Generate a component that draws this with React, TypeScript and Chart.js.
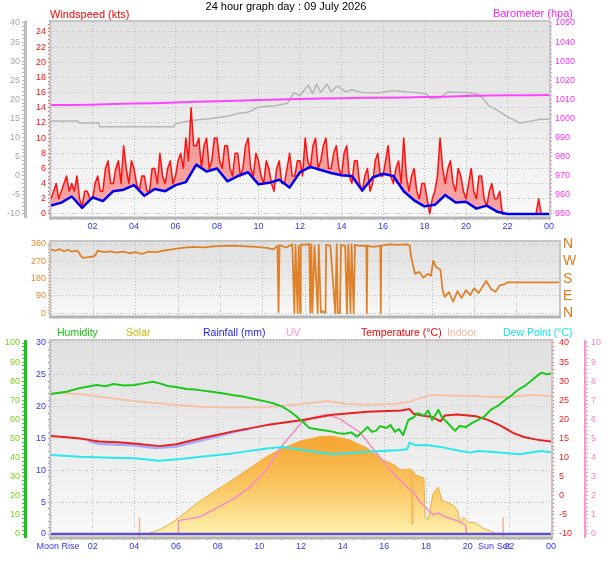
import React, { useEffect, useRef } from "react";
import { Chart, registerables } from "chart.js";

Chart.register(...registerables);

const FONT = '"Liberation Sans", Arial, sans-serif';
const GRID = "#c2c2c2";
const W = 608;
const H = 561;

// ---------- top panel: wind speed (kts) and barometer ----------
const gustStep = 0.125; // hours between gust samples, one row per hour
const windGust = [
  2, 3, 4, 2, 3, 4, 5, 3,
  4, 3, 5, 2, 1, 3, 3, 2,
  2, 4, 5, 3, 3, 6, 7, 4,
  4, 6, 7, 4, 9, 6, 4, 7,
  6, 4, 3, 5, 5, 3, 3, 6,
  6, 4, 8, 5, 4, 6, 7, 4,
  5, 7, 8, 6, 10, 7, 14, 9,
  9, 10, 6, 9, 10, 6, 7, 10,
  10, 7, 6, 9, 9, 6, 5, 8,
  8, 5, 6, 9, 10, 6, 5, 8,
  7, 5, 4, 7, 6, 4, 3, 6,
  7, 4, 4, 6, 8, 5, 5, 7,
  7, 5, 10, 7, 6, 9, 10, 6,
  7, 9, 10, 6, 6, 8, 9, 6,
  5, 8, 9, 5, 4, 7, 7, 4,
  3, 5, 6, 3, 4, 7, 8, 5,
  5, 7, 9, 5, 4, 6, 7, 4,
  10, 5, 3, 5, 6, 3, 2, 4,
  4, 2, 0, 2, 3, 5, 10, 6,
  4, 6, 7, 4, 3, 6, 5, 3,
  2, 4, 6, 3, 2, 5, 5, 2,
  1, 3, 4, 2, 2, 3, 0, 0,
  0, 0, 0, 0, 0, 0, 0, 0,
  0, 0, 0, 0, 2, 0, 0, 0,
  0,
];
const avgStep = 0.5;
const windAvg = [
  1.1, 1.5, 2.3, 0.8, 2.2, 1.7, 3.0, 3.2, 3.8, 2.4,
  3.3, 3.0, 3.8, 4.2, 6.5, 5.6, 6.0, 4.3, 5.0, 5.5,
  3.9, 4.1, 4.5, 3.5, 5.5, 6.2, 5.8, 5.4, 5.1, 5.0,
  3.1, 4.8, 5.3, 5.0, 3.0, 1.8, 1.0, 1.2, 2.5, 1.5,
  1.6, 0.7, 1.1, 0.3, 0, 0, 0, 0, 0,
];
const baroStep = 1;
const baroHpa = [
  1007.0, 1007.0, 1007.2, 1007.6, 1007.8, 1008.0, 1008.3, 1008.8, 1009.0, 1009.3,
  1009.6, 1009.9, 1010.2, 1010.4, 1010.6, 1010.8, 1010.9, 1011.0, 1011.2, 1011.4,
  1011.7, 1012.0, 1012.1, 1012.2, 1012.3,
];
// grey trace, read against the grey -10..40 scale
const greyTrace: [number, number][] = [
  [0, 14.3], [1.3, 14.3], [1.35, 13.8], [2.3, 13.8], [2.35, 12.8], [5.9, 12.8], [6.0, 13.6],
  [6.5, 14.2], [7.0, 14.6], [7.7, 15.0], [8.5, 15.6], [9.1, 16.4], [9.5, 16.6], [10.0, 18.0],
  [10.8, 18.3], [11.4, 19.0], [11.7, 21.7], [12.0, 21.0], [12.4, 23.8], [12.6, 21.5], [12.8, 24.0],
  [13.0, 21.8], [13.3, 24.0], [13.5, 22.0], [13.8, 23.5], [14.2, 22.0], [14.5, 22.5], [15.0, 21.8],
  [15.8, 21.7], [16.5, 22.3], [17.2, 21.9], [17.7, 21.7], [18.1, 21.4], [18.3, 20.2], [18.8, 20.5],
  [19.1, 21.9], [20.0, 21.8], [20.5, 21.4], [20.8, 20.4], [21.1, 18.3], [21.5, 17.2], [22.0, 15.4],
  [22.6, 13.8], [23.1, 14.3], [23.6, 14.8], [24, 14.8],
];

// ---------- middle panel: wind direction (degrees) ----------
const windDirection: [number, number][] = [
  [0, 332], [0.2, 325], [0.4, 333], [0.6, 322], [0.8, 330], [1.0, 320], [1.2, 326], [1.3, 318],
  [1.4, 300], [1.5, 288], [1.8, 292], [2.0, 295], [2.1, 302], [2.2, 325], [2.5, 318], [2.8, 322],
  [3.1, 315], [3.4, 320], [3.7, 312], [4.0, 318], [4.3, 308], [4.6, 320], [5.0, 318], [5.3, 325],
  [5.7, 332], [6.2, 340], [6.7, 345], [7.2, 343], [7.7, 348], [8.2, 350], [8.7, 352], [9.2, 348],
  [9.7, 345], [10.2, 340], [10.5, 332], [10.7, 350], [10.75, 8], [10.8, 355], [11.1, 342],
  [11.4, 358], [11.5, 0], [11.55, 355], [11.65, 2], [11.7, 350], [11.77, 0], [11.8, 358],
  [12.0, 355], [12.2, 360], [12.25, 2], [12.3, 358], [12.35, 5], [12.45, 350], [12.6, 0],
  [12.65, 356], [12.75, 5], [12.85, 10], [12.97, 2], [13.0, 355], [13.2, 352], [13.43, 0],
  [13.5, 358], [13.55, 3], [13.65, 0], [13.7, 356], [13.9, 350], [13.98, 0], [14.05, 356],
  [14.15, 2], [14.2, 358], [14.3, 0], [14.36, 355], [14.6, 350], [14.9, 352], [14.92, 0],
  [14.95, 350], [15.2, 345], [15.56, 350], [15.58, 0], [15.6, 352], [16.0, 358], [16.4, 355],
  [16.8, 358], [16.95, 352], [17.0, 300], [17.1, 250], [17.2, 205], [17.4, 215], [17.6, 185],
  [17.8, 205], [17.95, 195], [18.06, 272], [18.2, 240], [18.4, 225], [18.5, 120], [18.6, 85],
  [18.8, 110], [19.0, 60], [19.2, 115], [19.4, 80], [19.6, 120], [19.8, 95], [20.0, 130],
  [20.2, 105], [20.4, 140], [20.56, 168], [20.8, 125], [21.0, 112], [21.2, 145], [21.4, 150],
  [21.58, 161], [24, 161],
];
const compass: Record<number, string> = { 0: "N", 90: "E", 180: "S", 270: "W", 360: "N" };

// ---------- bottom panel ----------
const humidity: [number, number][] = [
  [0, 73.3], [0.4, 74.0], [0.75, 74.5], [1.1, 75.6], [1.4, 76.4], [1.8, 77.2], [2.2, 78.0],
  [2.6, 77.4], [3.0, 78.5], [3.5, 77.8], [4.0, 78.0], [4.5, 79.0], [4.9, 79.7], [5.3, 78.6],
  [5.6, 77.5], [6.0, 77.0], [6.5, 75.9], [6.9, 75.6], [7.2, 75.2], [7.8, 74.3], [8.3, 73.6],
  [8.7, 72.8], [9.2, 72.0], [9.8, 70.6], [10.35, 69.3], [10.7, 68.3], [11.1, 66.7], [11.5, 64.0],
  [11.8, 61.4], [12.1, 58.6], [12.4, 55.5], [12.7, 55.0], [13.0, 54.5], [13.5, 53.6], [13.8, 52.8],
  [14.1, 52.5], [14.4, 53.2], [14.7, 51.0], [15.0, 54.0], [15.2, 56.0], [15.4, 53.5], [15.6, 54.0],
  [15.8, 56.5], [16.1, 55.5], [16.3, 57.0], [16.5, 53.5], [16.7, 55.0], [16.9, 51.8], [17.15, 59.7],
  [17.4, 61.0], [17.6, 63.3], [17.9, 62.0], [18.1, 64.6], [18.3, 59.7], [18.6, 65.0], [18.75, 61.4],
  [19.05, 58.0], [19.4, 54.0], [19.6, 56.5], [19.9, 56.0], [20.2, 58.0], [20.5, 59.7], [20.8, 61.5],
  [21.1, 65.0], [21.5, 67.5], [21.8, 70.2], [22.1, 72.5], [22.4, 75.4], [22.8, 78.0], [23.1, 80.6],
  [23.3, 82.5], [23.55, 84.5], [23.8, 83.6], [24, 84.1],
];
const temperature: [number, number][] = [
  [0, 15.65], [0.75, 15.3], [1.5, 14.9], [2.3, 14.2], [3.2, 14.0], [4.0, 13.7], [5.2, 13.0],
  [6.0, 13.5], [7.2, 15.05], [8.7, 16.8], [10.35, 18.5], [12.0, 19.8], [13.5, 21.2], [15.2, 22.0],
  [16.8, 22.3], [17.2, 22.7], [17.4, 21.5], [17.8, 21.0], [18.3, 20.6], [18.7, 19.5], [18.9, 21.0],
  [19.5, 21.3], [20.4, 20.8], [21.0, 19.8], [21.6, 18.3], [22.2, 16.4], [22.7, 15.4], [23.3, 14.7],
  [24, 14.2],
];
const feelsLike: [number, number][] = [
  [1.8, 14.3], [2.3, 13.6], [3.0, 13.4], [4.0, 13.2], [5.0, 12.5], [6.0, 12.9], [7.0, 14.2],
  [8.0, 15.6], [9.0, 17.0], [9.5, 17.4],
];
const dewPoint: [number, number][] = [
  [0, 10.7], [1.4, 10.2], [2.5, 10.0], [4.0, 9.8], [5.2, 9.2], [6.2, 9.6], [7.2, 10.2], [8.7, 11.1],
  [10.35, 12.4], [11.1, 12.8], [11.7, 12.3], [12.4, 11.7], [13.5, 10.9], [14.4, 11.2], [15.2, 11.5],
  [16.8, 12.0], [17.1, 12.2], [17.2, 13.9], [17.5, 13.2], [18.0, 13.3], [18.7, 12.8], [19.4, 12.0],
  [20.1, 11.3], [20.5, 11.7], [21.1, 11.5], [22.5, 10.9], [23.5, 11.7], [24, 11.4],
];
const indoor: [number, number][] = [
  [0, 27.0], [1.4, 26.65], [2.5, 25.8], [4.0, 24.8], [5.5, 24.0], [7.2, 23.3], [8.5, 23.1],
  [10.35, 23.2], [12.0, 24.0], [13.3, 24.8], [14.2, 24.0], [15.2, 23.8], [16.5, 24.0], [17.2, 24.6],
  [18.2, 26.4], [20.1, 26.1], [21.8, 25.8], [23.0, 26.4], [24, 26.1],
];
const rainfall: [number, number][] = [[0, 0], [24, 0]];
const uvIndex: [number, number][] = [
  [0, 0], [6.1, 0], [6.12, 0.7], [7.15, 0.9], [8.7, 1.8], [9.5, 2.4], [10.35, 3.35], [11.0, 4.5],
  [12.0, 5.8], [12.6, 6.1], [13.25, 6.25], [13.9, 6.0], [14.85, 5.3], [15.65, 4.2], [16.4, 3.2],
  [17.15, 2.4], [17.4, 2.2], [17.7, 1.7], [18.1, 1.26], [18.35, 1.0], [18.6, 1.1], [18.9, 0.9],
  [19.4, 0.73], [19.75, 0.57], [19.9, 0.47], [19.95, 0], [24, 0],
];
const solar: [number, number][] = [
  [0, 0], [4.7, 0], [4.75, 5], [5.3, 30], [6.0, 86], [6.5, 137], [7.15, 204], [8.7, 335],
  [10.35, 480], [11.1, 532], [12.0, 579], [12.9, 604], [13.5, 608], [14.35, 583], [15.2, 532],
  [15.95, 459], [16.5, 428], [16.75, 397], [17.2, 403], [17.3, 400], [17.33, 60], [17.37, 390],
  [17.5, 366], [17.9, 347], [17.95, 104], [18.1, 86], [18.35, 254], [18.6, 291], [18.75, 210],
  [19.05, 192], [19.3, 179], [19.5, 148], [19.65, 67], [19.8, 104], [20.0, 73], [20.4, 67],
  [20.7, 36], [21.2, 11], [21.35, 0], [24, 0],
];
const sunEvents = [4.25, 21.7];
const bottomExtraTicks = [
  { value: 0.34, label: "Moon Rise" },
  { value: 21.27, label: "Sun Set" },
];

// ---------- helpers ----------
const pairs = (p: [number, number][]) => p.map(([x, y]) => ({ x, y }));
const stepped = (step: number, ys: number[]) => ys.map((y, i) => ({ x: i * step, y }));
const every = (v: number | undefined, m: number) =>
  v !== undefined && Math.abs(v / m - Math.round(v / m)) < 1e-6;
const tickRange = (from: number, to: number, step: number) => {
  const out: { value: number }[] = [];
  const n = Math.round((to - from) / step);
  for (let i = 0; i <= n; i++) out.push({ value: +(from + i * step).toFixed(3) });
  return out;
};
const font = (size: number) => ({ family: FONT, size });

const hourAxis = (showLabels: boolean, extra: { value: number; label: string }[] = []) => ({
  type: "linear",
  position: "bottom",
  min: 0,
  max: 24,
  afterBuildTicks: (s: any) => {
    s.ticks = [...tickRange(0, 24, 0.5), ...extra.map((e) => ({ value: e.value }))].sort(
      (a, b) => a.value - b.value
    );
  },
  afterFit: (s: any) => {
    s.height = showLabels ? 16 : 0;
  },
  ticks: {
    display: showLabels,
    autoSkip: false,
    maxRotation: 0,
    padding: 1,
    color: "#3434ff",
    font: font(9),
    callback: (v: number) => {
      const e = extra.find((x) => x.value === v);
      if (e) return e.label;
      return every(v, 2) && v > 0 ? String(v % 24).padStart(2, "0") : "";
    },
  },
  grid: {
    color: (c: any) => (every(c.tick?.value, 2) ? GRID : "transparent"),
    drawTicks: showLabels,
    tickLength: 3,
    tickWidth: 1,
    tickColor: (c: any) =>
      extra.some((e) => e.value === c.tick?.value) ? "transparent" : "#a4a4b8",
  },
  border: { display: false, dash: [1, 2] },
});

type AxisOpts = {
  position: "left" | "right";
  weight: number;
  min: number;
  max: number;
  from: number;
  to: number;
  step: number;
  labelEvery: number;
  width: number;
  color: string;
  tickColor: string;
  grid?: boolean;
  border?: { color: string; width: number };
  padding?: number;
};
const valueAxis = (o: AxisOpts) => ({
  type: "linear",
  position: o.position,
  weight: o.weight,
  min: o.min,
  max: o.max,
  afterBuildTicks: (s: any) => {
    s.ticks = tickRange(o.from, o.to, o.step);
  },
  afterFit: (s: any) => {
    s.width = o.width;
  },
  ticks: {
    autoSkip: false,
    color: o.color,
    font: font(9),
    padding: o.padding ?? 2,
    callback: (v: number) => (every(v, o.labelEvery) ? String(v) : ""),
  },
  grid: {
    drawOnChartArea: !!o.grid,
    color: (c: any) => (every(c.tick?.value, o.labelEvery) ? GRID : "transparent"),
    tickColor: o.tickColor,
    tickLength: 3,
    tickWidth: 1,
  },
  border: o.border
    ? { display: true, color: o.border.color, width: o.border.width, dash: [1, 2] }
    : { display: false, dash: [1, 2] },
});

type Label = { text: string; x: number; y: number; color: string; align?: CanvasTextAlign };
const panelPlugin = (labels: Label[], textSize = 11) => ({
  id: "panel",
  beforeDraw(chart: any) {
    const { ctx, chartArea: a } = chart;
    const g = ctx.createLinearGradient(0, a.top, 0, a.bottom);
    g.addColorStop(0, "#e1e1e1");
    g.addColorStop(0.35, "#e7e7e7");
    g.addColorStop(1, "#f9f9f9");
    ctx.save();
    ctx.fillStyle = g;
    ctx.fillRect(a.left, a.top, a.right - a.left, a.bottom - a.top);
    ctx.restore();
  },
  afterDraw(chart: any) {
    const { ctx, chartArea: a } = chart;
    ctx.save();
    ctx.strokeStyle = "#c6c6c6";
    ctx.lineWidth = 2;
    ctx.strokeRect(a.left - 1, a.top - 1, a.right - a.left + 2, a.bottom - a.top + 2);
    ctx.strokeStyle = "#b4b4b4";
    ctx.lineWidth = 3;
    ctx.beginPath();
    ctx.moveTo(a.left - 2, a.bottom + 1);
    ctx.lineTo(a.right + 2, a.bottom + 1);
    ctx.stroke();
    ctx.font = `${textSize}px ${FONT}`;
    ctx.textBaseline = "middle";
    labels.forEach((l) => {
      ctx.fillStyle = l.color;
      ctx.textAlign = l.align ?? "left";
      ctx.fillText(l.text, l.x, l.y);
    });
    ctx.restore();
  },
});

const common = {
  responsive: false,
  animation: false,
  events: [],
  elements: { point: { radius: 0 }, line: { tension: 0, borderJoinStyle: "round" } },
  plugins: { legend: { display: false }, tooltip: { enabled: false } },
};

const line = (data: any[], axis: string, color: string, width = 2, extra: any = {}) => ({
  data,
  yAxisID: axis,
  borderColor: color,
  borderWidth: width,
  fill: false,
  ...extra,
});

const topConfig = (): any => ({
  type: "line",
  data: {
    datasets: [
      line(stepped(avgStep, windAvg), "yW", "#0000f0", 2.5),
      line(stepped(gustStep, windGust), "yW", "#ff1010", 1.5, {
        fill: "-1",
        backgroundColor: "rgba(255,60,60,0.45)",
      }),
      line(stepped(baroStep, baroHpa), "yB", "#ff44ff", 2),
      line(pairs(greyTrace), "yG", "#b6b6b6", 1.5),
    ],
  },
  options: {
    ...common,
    layout: { padding: { left: 0, right: 19, top: 22, bottom: 328 } },
    scales: {
      x: hourAxis(true),
      yG: valueAxis({
        position: "left", weight: 2, min: -10.8, max: 40.25, from: -10, to: 40, step: 1,
        labelEvery: 5, width: 25, color: "#a8a8a8", tickColor: "#b4b4b4",
        border: { color: "#bcbcbc", width: 3 },
      }),
      yW: valueAxis({
        position: "left", weight: 1, min: -0.4, max: 25.3, from: 0, to: 25, step: 0.5,
        labelEvery: 2, width: 26, color: "#ff1010", tickColor: "#ff5050", grid: true,
      }),
      yB: valueAxis({
        position: "right", weight: 1, min: 948.4, max: 1050.5, from: 950, to: 1050, step: 2,
        labelEvery: 10, width: 40, color: "#ff30ff", tickColor: "#ff70ff", padding: 3,
      }),
    },
  },
  plugins: [
    panelPlugin([
      { text: "24 hour graph day : 09 July 2026", x: 286, y: 7, color: "#000000", align: "center" },
      { text: "Windspeed (kts)", x: 50, y: 15, color: "#ff0000" },
      { text: "Barometer (hpa)", x: 573, y: 14, color: "#ff20ff", align: "right" },
    ]),
  ],
});

const midConfig = (): any => ({
  type: "line",
  data: {
    datasets: [line(pairs(windDirection), "yD", "rgba(222,118,20,0.9)", 1.8)],
  },
  options: {
    ...common,
    layout: { padding: { left: 0, right: 29, top: 242, bottom: 245 } },
    scales: {
      x: hourAxis(false),
      yD: valueAxis({
        position: "left", weight: 1, min: -14, max: 370.4, from: 0, to: 360, step: 15,
        labelEvery: 90, width: 51, color: "#e88a30", tickColor: "#eba060", grid: true,
      }),
      yL: {
        type: "linear",
        position: "right",
        min: -14,
        max: 370.4,
        afterBuildTicks: (s: any) => {
          s.ticks = [0, 90, 180, 270, 360].map((value) => ({ value }));
        },
        afterFit: (s: any) => {
          s.width = 20;
        },
        ticks: {
          autoSkip: false,
          padding: 4,
          color: "#e07a14",
          font: font(14),
          callback: (v: number) => compass[v] ?? "",
        },
        grid: { display: false, drawTicks: false },
        border: { display: false },
      },
    },
  },
  plugins: [panelPlugin([])],
});

const solarFill = (ctx: any) => {
  const area = ctx.chart.chartArea;
  if (!area) return "#fbd070";
  const g = ctx.chart.ctx.createLinearGradient(0, area.top + 92, 0, area.bottom);
  g.addColorStop(0, "#f5a22c");
  g.addColorStop(0.5, "#f9c560");
  g.addColorStop(1, "#fff4b2");
  return g;
};

const lowConfig = (): any => ({
  type: "line",
  data: {
    datasets: [
      line(pairs(rainfall), "yR", "#5a4ee0", 2.5),
      ...sunEvents.map((h) =>
        line([{ x: h, y: -0.47 }, { x: h, y: 2.6 }], "yR", "#f2b298", 1.5)
      ),
      line(pairs(humidity), "yH", "#1cc81c", 2),
      line(pairs(temperature), "yT", "#ea2020", 2),
      line(pairs(feelsLike), "yT", "#a8a8fa", 2.5),
      line(pairs(dewPoint), "yT", "#2ae8ee", 2),
      line(pairs(indoor), "yT", "#f6c2aa", 2),
      line(pairs(uvIndex), "yU", "#f58cc4", 1.5),
      line(pairs(solar), "yS", "#f4ac3c", 1, { fill: "start", backgroundColor: solarFill }),
    ],
  },
  options: {
    ...common,
    layout: { padding: { left: 0, right: 3, top: 341, bottom: 8 } },
    scales: {
      x: hourAxis(true, bottomExtraTicks),
      yH: valueAxis({
        position: "left", weight: 2, min: -1.57, max: 101.05, from: 0, to: 100, step: 2,
        labelEvery: 10, width: 25, color: "#7cd41c", tickColor: "#3cc83c",
        border: { color: "#14c814", width: 3 },
      }),
      yR: valueAxis({
        position: "left", weight: 1, min: -0.47, max: 30.31, from: 0, to: 30, step: 1,
        labelEvery: 5, width: 26, color: "#3535ff", tickColor: "#8c8cff", grid: true,
      }),
      yT: valueAxis({
        position: "right", weight: 1, min: -10.79, max: 40.52, from: -10, to: 40, step: 1,
        labelEvery: 5, width: 34, color: "#ff1c1c", tickColor: "#ff5c5c", padding: 5,
      }),
      yU: valueAxis({
        position: "right", weight: 2, min: -0.157, max: 10.1, from: 0, to: 10, step: 0.2,
        labelEvery: 1, width: 20, color: "#ff84c4", tickColor: "#ff9ccc", padding: 3,
        border: { color: "#ff94c8", width: 2 },
      }),
      yS: { type: "linear", display: false, min: -20, max: 1200 },
    },
  },
  plugins: [
    panelPlugin(
      [
        { text: "Humidity", x: 57, y: 333, color: "#14c014" },
        { text: "Solar", x: 126, y: 333, color: "#c8c000" },
        { text: "Rainfall (mm)", x: 203, y: 333, color: "#2424ff" },
        { text: "UV", x: 286, y: 333, color: "#ff94d0" },
        { text: "Temperature (°C)", x: 361, y: 333, color: "#ff0000" },
        { text: "Indoor", x: 447, y: 333, color: "#f4b8a0" },
        { text: "Dew Point (°C)", x: 503, y: 333, color: "#10e6ee" },
      ],
      10.5
    ),
  ],
});

export default function App() {
  const topRef = useRef<HTMLCanvasElement | null>(null);
  const midRef = useRef<HTMLCanvasElement | null>(null);
  const lowRef = useRef<HTMLCanvasElement | null>(null);

  useEffect(() => {
    const charts: Chart[] = [];
    if (topRef.current) charts.push(new Chart(topRef.current, topConfig()));
    if (midRef.current) charts.push(new Chart(midRef.current, midConfig()));
    if (lowRef.current) charts.push(new Chart(lowRef.current, lowConfig()));
    return () => charts.forEach((c) => c.destroy());
  }, []);

  const layer: React.CSSProperties = { position: "absolute", left: 0, top: 0 };
  return (
    <div style={{ position: "absolute", left: 0, top: 0, width: W, height: H, background: "#fff" }}>
      <canvas ref={topRef} width={W} height={H} style={layer} />
      <canvas ref={midRef} width={W} height={H} style={layer} />
      <canvas ref={lowRef} width={W} height={H} style={layer} />
    </div>
  );
}
